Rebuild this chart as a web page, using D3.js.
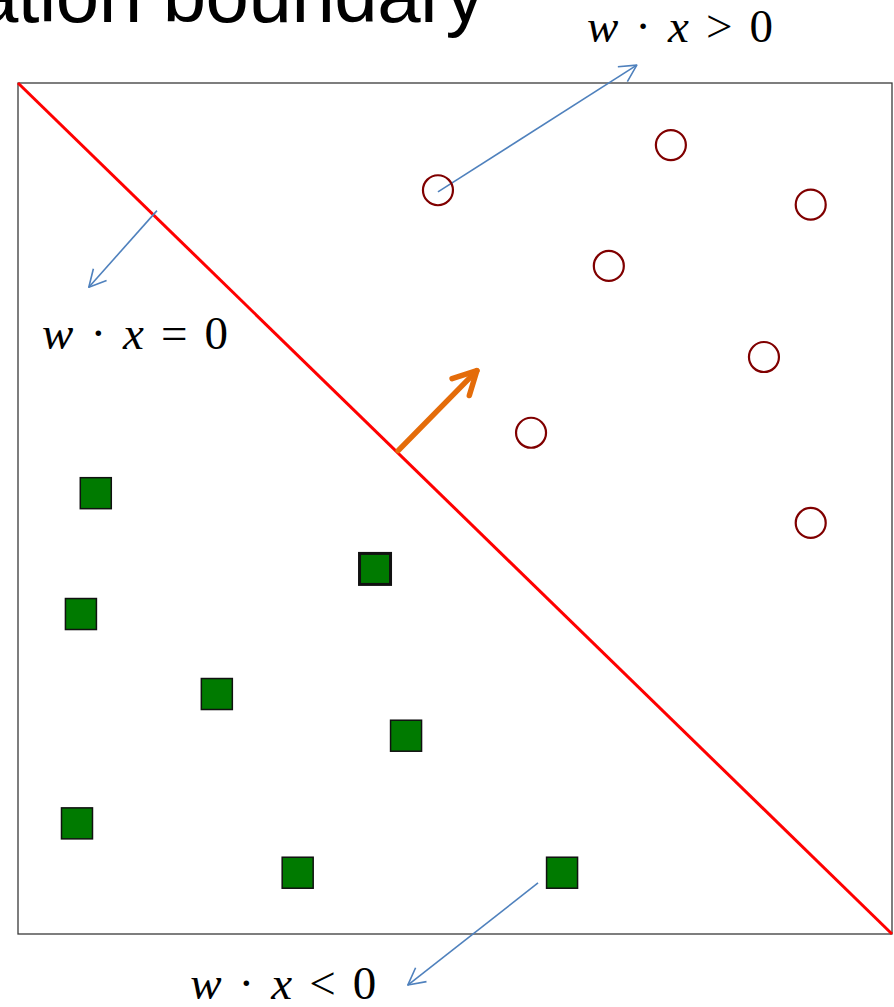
<!DOCTYPE html>
<html>
<head>
<meta charset="utf-8">
<script src="https://cdn.jsdelivr.net/npm/d3@7"></script>
<style>
  html, body { margin: 0; padding: 0; background: #fff; }
  svg { display: block; }
</style>
</head>
<body>
<svg id="chart" width="894" height="1007"></svg>
<script>
// data space is 0..100 on both axes, box corners are (0,0) and (100,100)
const circles = [
  [48.05, 87.4], [74.7, 92.7], [90.7, 85.7], [67.6, 78.5],
  [85.35, 67.8], [58.7, 58.9], [90.7, 48.3]
];
const squares = [
  [8.9, 51.8], [40.85, 42.9], [7.2, 37.6], [22.75, 28.2],
  [44.4, 23.3], [6.75, 13.0], [32.0, 7.2], [62.25, 7.2]
];
const thickSquare = 1; // the one square drawn with a heavier border

const boundary = [[0, 100], [100, 0]];   // w·x = 0
const normalArrow = [[43.5, 56.8], [52.5, 66.2]]; // w
const pointers = [
  [[48.05, 87.2], [70.8, 102.1]],
  [[15.9, 85.0], [8.1, 76.0]],
  [[59.5, 6.0], [44.6, -6.0]]
];
const labels = [
  {pos: [65.1, 104.8], op: ">"},
  {pos: [2.75, 68.8], op: "="},
  {pos: [19.7, -7.6], op: "<"}
];
const title = "Classification boundary";

const svg = d3.select("#chart")
const box = {left: 18, top: 83, right: 892, bottom: 934};

const x = d3.scaleLinear().domain([0, 100]).range([box.left, box.right]);
const y = d3.scaleLinear().domain([0, 100]).range([box.bottom, box.top]);

// title (cut off at the left, like the slide)
svg.append("text")
  .attr("x", 484)
  .attr("y", 22)
  .attr("text-anchor", "end")
  .attr("font-family", "Liberation Sans, Arial, sans-serif")
  .attr("font-size", 78)
  .attr("letter-spacing", -0.5)
  .attr("fill", "#000")
  .text(title);

// frame
svg.append("rect")
  .attr("x", x(0))
  .attr("y", y(100))
  .attr("width", x(100) - x(0))
  .attr("height", y(0) - y(100))
  .attr("fill", "none")
  .attr("stroke", "#3a3a3a")
  .attr("stroke-width", 1.3);

// decision boundary
svg.append("line")
  .attr("x1", x(boundary[0][0])).attr("y1", y(boundary[0][1]))
  .attr("x2", x(boundary[1][0])).attr("y2", y(boundary[1][1]))
  .attr("stroke", "#ff0000")
  .attr("stroke-width", 3);

// arrow with open head
function arrow(g, from, to, color, width, head, cap) {
  const x1 = x(from[0]), y1 = y(from[1]), x2 = x(to[0]), y2 = y(to[1]);
  const a = Math.atan2(y2 - y1, x2 - x1);
  const spread = Math.PI / 6.5;
  const pts = [
    [x2 - head * Math.cos(a - spread), y2 - head * Math.sin(a - spread)],
    [x2, y2],
    [x2 - head * Math.cos(a + spread), y2 - head * Math.sin(a + spread)]
  ];
  g.append("line")
    .attr("x1", x1).attr("y1", y1).attr("x2", x2).attr("y2", y2)
    .attr("stroke", color).attr("stroke-width", width)
    .attr("stroke-linecap", cap);
  g.append("path")
    .attr("d", d3.line()(pts))
    .attr("fill", "none")
    .attr("stroke", color).attr("stroke-width", width)
    .attr("stroke-linecap", cap).attr("stroke-linejoin", "round");
}

const arrows = svg.append("g");
pointers.forEach(p => arrow(arrows, p[0], p[1], "#4f81bd", 1.6, 19, "butt"));
arrow(arrows, normalArrow[0], normalArrow[1], "#e46c0a", 5.5, 26, "round");

// positive points
svg.append("g").selectAll("circle")
  .data(circles)
  .join("circle")
  .attr("cx", d => x(d[0]))
  .attr("cy", d => y(d[1]))
  .attr("r", 15)
  .attr("fill", "none")
  .attr("stroke", "#800000")
  .attr("stroke-width", 2.2);

// negative points
const side = 31;
svg.append("g").selectAll("rect")
  .data(squares)
  .join("rect")
  .attr("x", d => x(d[0]) - side / 2)
  .attr("y", d => y(d[1]) - side / 2)
  .attr("width", side)
  .attr("height", side)
  .attr("fill", "#007a00")
  .attr("stroke", "#111")
  .attr("stroke-width", (d, i) => i == thickSquare ? 3 : 1.5);

// w · x  (op)  0
const lab = svg.append("g")
  .attr("font-family", "Liberation Serif, Times New Roman, serif")
  .attr("font-size", 47)
  .attr("fill", "#000");

labels.forEach(l => {
  const t = lab.append("text")
    .attr("x", x(l.pos[0]))
    .attr("y", y(l.pos[1]))
    .attr("textLength", 186)
    .attr("lengthAdjust", "spacing");
  t.append("tspan").attr("font-style", "italic").text("w");
  t.append("tspan").text(" · ");
  t.append("tspan").attr("font-style", "italic").text("x");
  t.append("tspan").text(" " + l.op + " 0");
});
</script>
</body>
</html>
